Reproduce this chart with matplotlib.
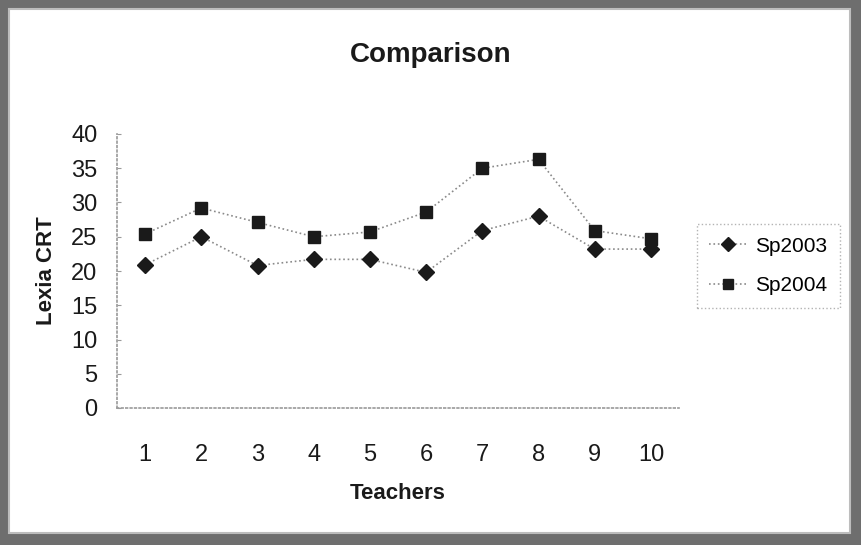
import matplotlib
matplotlib.use("Agg")
import matplotlib.pyplot as plt
from matplotlib.patches import Rectangle

# values
teachers = [1, 2, 3, 4, 5, 6, 7, 8, 9, 10]
sp2003 = [20.9, 25.0, 20.8, 21.7, 21.7, 19.8, 25.9, 28.0, 23.2, 23.2]
sp2004 = [25.4, 29.2, 27.1, 25.0, 25.7, 28.6, 35.0, 36.3, 25.9, 24.7]
y_ticks = [0, 5, 10, 15, 20, 25, 30, 35, 40]

plt.rcParams["font.family"] = ["Liberation Sans", "DejaVu Sans"]

fig = plt.figure(figsize=(8.62, 5.45), dpi=100)
fig.patch.set_facecolor("#6e6e6e")
# white card inside the dark scanned frame
card = Rectangle((9 / 862, 12 / 545), 841 / 862, 524 / 545,
                 transform=fig.transFigure, facecolor="white",
                 edgecolor="#bdbdbd", linewidth=1.5, zorder=-10)
fig.add_artist(card)

ax = fig.add_axes([117 / 862, 1 - 408 / 545, 562 / 862, 274 / 545])
ax.set_facecolor("none")
ax.set_zorder(5)

ax.plot(teachers, sp2003, color="#8a8a8a", linestyle=":", linewidth=1.2,
        marker="D", markersize=8, markerfacecolor="#1a1a1a",
        markeredgecolor="#1a1a1a", label="Sp2003")
ax.plot(teachers, sp2004, color="#8a8a8a", linestyle=":", linewidth=1.2,
        marker="s", markersize=8, markerfacecolor="#1a1a1a",
        markeredgecolor="#1a1a1a", label="Sp2004")

ax.set_xlim(0.5, 10.5)
ax.set_ylim(0, 40)
ax.set_yticks(y_ticks)
ax.set_xticks(teachers)

for side in ("top", "right"):
    ax.spines[side].set_visible(False)
for side in ("left", "bottom"):
    ax.spines[side].set_color("#9a9a9a")
    ax.spines[side].set_linestyle(":")
    ax.spines[side].set_linewidth(1.2)

ax.tick_params(axis="y", length=3, color="#9a9a9a", direction="in",
               labelsize=17, pad=14, labelcolor="#1a1a1a")
ax.tick_params(axis="x", length=0, labelsize=17, pad=26, labelcolor="#1a1a1a")

fig.text(431 / 862, 1 - 55 / 545, "Comparison", fontsize=20,
         fontweight="bold", color="#1a1a1a", ha="center", va="center")
ax.set_xlabel("Teachers", fontsize=16, fontweight="bold", color="#1a1a1a",
              labelpad=12)
ax.set_ylabel("Lexia CRT", fontsize=16, fontweight="bold", color="#1a1a1a",
              labelpad=10)

leg = ax.legend(loc="center left", bbox_to_anchor=(697 / 862, 1 - 266 / 545),
                bbox_transform=fig.transFigure, fontsize=15, frameon=True,
                fancybox=False, borderpad=0.6, labelspacing=1.0,
                handlelength=1.8, handletextpad=0.4, borderaxespad=0,
                markerscale=0.9)
leg.get_frame().set_edgecolor("#a0a0a0")
leg.get_frame().set_linestyle(":")
leg.get_frame().set_linewidth(1.0)

fig.savefig("out.png", dpi=100, facecolor=fig.get_facecolor())
